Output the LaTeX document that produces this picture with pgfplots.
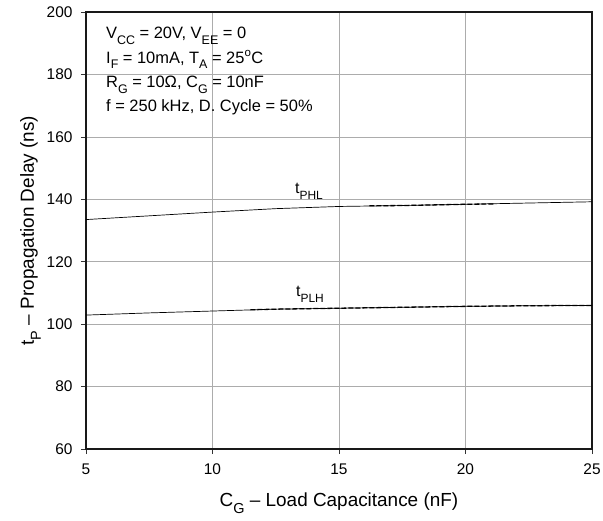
\documentclass[border=0pt]{standalone}
\usepackage{fontspec}
\setmainfont{Liberation Sans}
\usepackage{pgfplots}
\pgfplotsset{compat=1.18}

% subscript: size, then text; lowered relative to the surrounding font
\newcommand\sub[2][12]{\raisebox{-0.36em}{\fontsize{#1}{#1}\selectfont #2}}

\begin{document}
\fontsize{16}{18}\selectfont
\begin{tikzpicture}
\useasboundingbox (-86bp,-72bp) rectangle (517bp,449bp);
\begin{axis}[
    scale only axis,
    at={(0,0)}, anchor=south west,
    width=506bp, height=437bp,
    xmin=5, xmax=25, ymin=60, ymax=200,
    xtick={5,10,15,20,25}, ytick={60,80,...,200},
    grid=major,
    grid style={gray!65, line width=0.7pt},
    axis line style={black!90, line width=1.8pt},
    tick align=outside,
    major tick length=5bp,
    tick style={black!80, line width=0.7pt},
    xtick pos=bottom, ytick pos=left,
    /pgf/number format/assume math mode=true,
    ticklabel style={font=\fontsize{15.5}{17}\selectfont},
    xticklabel style={yshift=-4bp},
    yticklabel style={xshift=-3bp},
    xlabel={C\sub[14.5]{G} -- Load Capacitance (nF)},
    ylabel={t\sub[14.5]{P} -- Propagation Delay (ns)},
    label style={font=\fontsize{19}{21}\selectfont},
    xlabel style={at={(axis description cs:0.5,-0.1327)}, anchor=base},
    ylabel style={at={(axis description cs:-0.1028,0.5)}, anchor=base},
]
% t_PHL
\addplot[black, line width=0.7pt] coordinates {
    (5,133.5) (7.5,134.7) (10,135.9) (12.5,137.0) (15,137.7) (17.5,138.0) (20,138.4) (22.5,138.8) (25,139.2)
};
\addplot[black, line width=1.3pt, dash pattern=on 5bp off 2bp] coordinates {
    (16.2,137.9) (17.5,138.0) (20,138.4) (21.1,138.5)
};
% t_PLH
\addplot[black, line width=0.7pt] coordinates {
    (5,102.9) (7.5,103.6) (10,104.2) (12.5,104.8) (15,105.1) (17.5,105.4) (20,105.7) (22.5,105.9) (25,106.0)
};
\addplot[black, line width=1.3pt, dash pattern=on 5bp off 2bp] coordinates {
    (11.5,104.6) (12.5,104.8) (15,105.1) (17.5,105.4) (20,105.7) (22.5,105.9) (25,106.0)
};
\node[anchor=base west, inner sep=0pt, font=\fontsize{16}{18}\selectfont] at (axis cs:13.26,141.85) {t\sub{PHL}};
\node[anchor=base west, inner sep=0pt, font=\fontsize{16}{18}\selectfont] at (axis cs:13.30,108.8) {t\sub{PLH}};
\node[anchor=north west, align=left, inner sep=0pt, font=\fontsize{16.5}{24.5}\selectfont]
    at (axis cs:5.79,195.2) {%
    V\sub[12.5]{CC} = 20V, V\sub[12.5]{EE} = 0\\
    I\sub[12.5]{F} = 10mA, T\sub[12.5]{A} = 25\textsuperscript{o}C\\
    R\sub[12.5]{G} = 10Ω, C\sub[12.5]{G} = 10nF\\
    f = 250 kHz, D. Cycle = 50\%};
\end{axis}
\end{tikzpicture}
\end{document}
